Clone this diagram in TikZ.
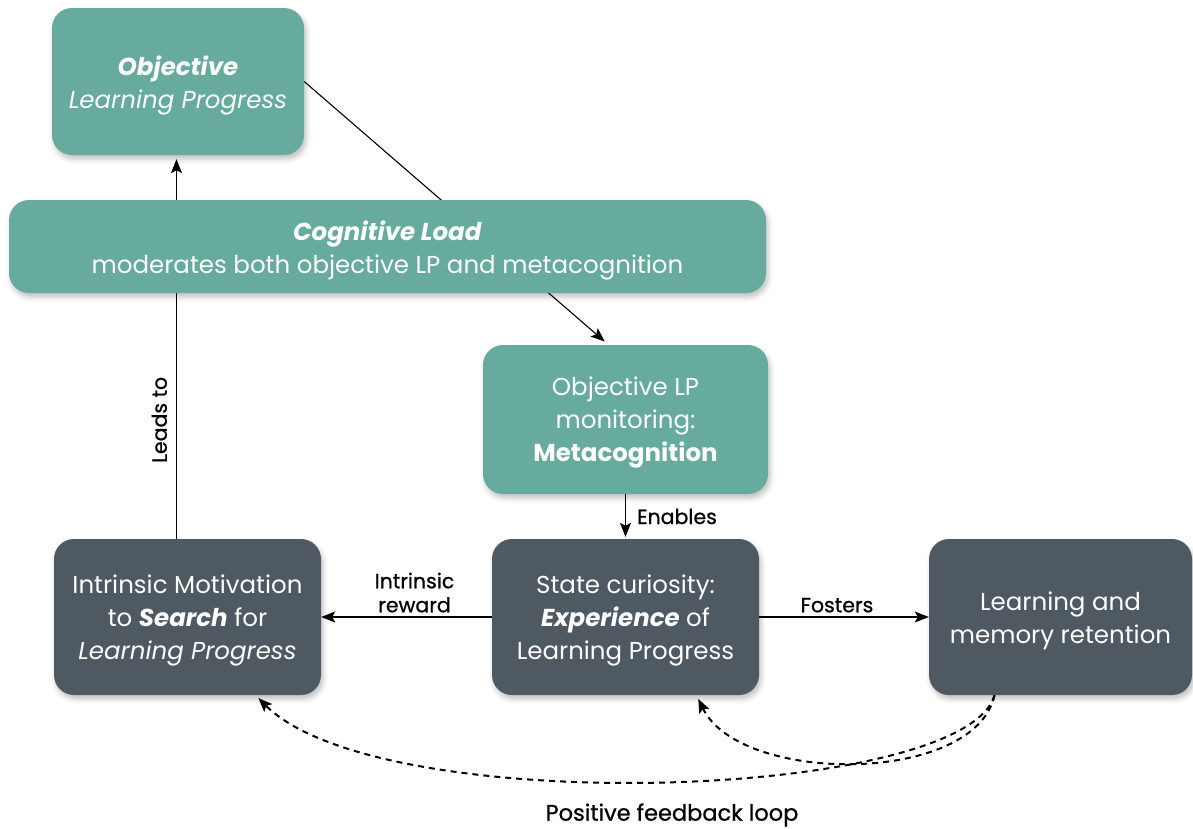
\documentclass[tikz,border=0pt]{standalone}
\usepackage{fontspec}
\setmainfont{Poppins}
\newfontfamily\lblfont[FakeBold=0.8]{Poppins}
\usetikzlibrary{arrows.meta,shadows.blur,backgrounds}
\definecolor{teal1}{HTML}{66AB9E}
\definecolor{dark1}{HTML}{4F5962}
\tikzset{
  box/.style={rectangle, rounded corners=20pt, draw=none, inner sep=0pt,
    blur shadow={shadow xshift=2pt, shadow yshift=-4pt, shadow blur radius=5pt, shadow opacity=25}},
  tealbox/.style={box, fill=teal1},
  darkbox/.style={box, fill=dark1},
  boxtext/.style={text=white, align=center, font=\fontsize{24.5}{33}\selectfont, inner sep=0pt, yshift=-3.5pt},
  arr/.style={-{Stealth[length=14pt,width=11pt,inset=3pt]}, line width=1.1pt, draw=black},
  dasharr/.style={-{Stealth[length=14pt,width=11pt,inset=3pt]}, line width=2pt, dash pattern=on 6pt off 5pt},
  lbl/.style={font=\lblfont\fontsize{20.5}{24}\selectfont, text=black, align=center, inner sep=3pt}
}
\begin{document}
\begin{tikzpicture}[x=1pt,y=-1pt]
\useasboundingbox (0,0) rectangle (1193,828);
\node[tealbox, minimum width=252pt, minimum height=147pt] (olp) at (178,81.5) {};
\node[boxtext] (olpt) at (olp.center) {\textbf{\textit{Objective}}\\\textit{Learning Progress}};
\node[tealbox, minimum width=757pt, minimum height=93pt] (cl) at (387.5,246.5) {};
\node[boxtext] (clt) at (cl.center) {\textbf{\textit{Cognitive Load}}\\moderates both objective LP and metacognition};
\node[tealbox, minimum width=285pt, minimum height=149pt] (meta) at (625.5,419.5) {};
\node[boxtext] (metat) at (meta.center) {Objective LP\\monitoring:\\\textbf{Metacognition}};
\node[darkbox, minimum width=267pt, minimum height=156pt] (im) at (187.5,617) {};
\node[boxtext] (imt) at (im.center) {Intrinsic Motivation\\to \textbf{\textit{Search}} for\\\textit{Learning Progress}};
\node[darkbox, minimum width=267pt, minimum height=156pt] (sc) at (625.5,617) {};
\node[boxtext] (sct) at (sc.center) {State curiosity:\\\textbf{\textit{Experience}} of\\Learning Progress};
\node[darkbox, minimum width=263pt, minimum height=156pt] (lm) at (1060.5,617) {};
\node[boxtext] (lmt) at (lm.center) {Learning and\\memory retention};
\node[lbl, font=\lblfont\fontsize{22.5}{26}\selectfont] (pfl) at (672,815) {Positive feedback loop};

\begin{scope}[on background layer]
\draw[arr, shorten >=4pt] ([xshift=-11pt]im.north) -- ([xshift=-11pt]im.north |- olp.south)
  node[lbl, pos=0.31, sloped, above, inner sep=9pt] (leads) {Leads to};
\draw[arr, shorten >=5pt] (olp.east) -- ([xshift=-17pt]meta.north);
\end{scope}
\draw[arr, shorten >=2pt] (meta.south) -- (sc.north) node[lbl, midway, right, xshift=8pt] (en) {Enables};
\draw[arr] (sc.west) -- (im.east) node[lbl, midway, above, xshift=8pt, inner sep=4pt] (ir) {Intrinsic\\reward};
\draw[arr] (sc.east) -- (lm.west) node[lbl, midway, above, xshift=-7pt, inner sep=4pt] (fo) {Fosters};
\draw[dasharr, shorten >=4pt] ([xshift=-66pt]lm.south) .. controls (975,785) and (740,785) .. ([xshift=71pt]sc.south);
\draw[dasharr, shorten >=4pt] ([xshift=-66pt]lm.south) .. controls (965,800) and (380,820) .. ([xshift=68pt]im.south);
\end{tikzpicture}
\end{document}
